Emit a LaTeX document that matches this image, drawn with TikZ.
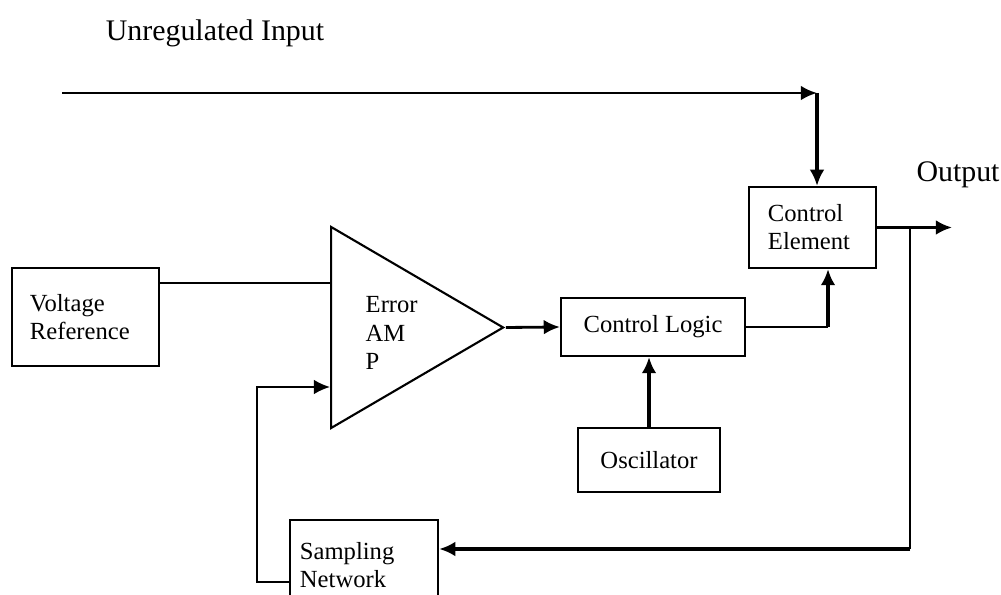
\documentclass[tikz,border=0pt]{standalone}
\usepackage{fontspec}
\setmainfont{Liberation Serif}
\usetikzlibrary{arrows.meta,calc,shapes.geometric}

\begin{document}
\begin{tikzpicture}[x=0.01cm,y=-0.01cm,
  blk/.style={draw,semithick,inner sep=0pt,font=\fontsize{7}{8}\selectfont},
  txt/.style={inner sep=0pt,font=\fontsize{7}{8}\selectfont},
  lbl/.style={font=\fontsize{8.5}{10}\selectfont},
  arr/.style={-{Latex[length=4.6pt,width=4.2pt]}}]
  \useasboundingbox (0,0) rectangle (1001,595);
  \clip (0,0) rectangle (1001,595);
  % blocks
  \node[blk,align=left,text width=1.11cm,inner xsep=0.18cm,minimum height=0.98cm] (vref) at (85.5,317) {Voltage\\Reference};
  \node[draw,semithick,isosceles triangle,isosceles triangle stretches,minimum width=2.01cm,minimum height=1.72cm,inner sep=0pt,anchor=lower side] (amp) at (330,327.5) {};
  \node[txt,align=left,anchor=west] (amptxt) at (365,333) {Error\\AM\\P};
  \node[blk,minimum width=1.84cm,minimum height=0.58cm] (logic) at (653,327) {Control Logic};
  \node[blk,minimum width=1.42cm,minimum height=0.64cm] (osc) at (649,460) {Oscillator};
  \node[blk,align=left,text width=0.89cm,inner xsep=0.19cm,minimum height=0.81cm] (elem) at (812.5,227.5) {Control\\Element};
  \node[blk,align=left,text width=1.28cm,inner xsep=0.1cm,minimum height=0.9cm] (samp) at (364,565) {Sampling\\Network};
  % labels
  \node[lbl] (inlbl) at (215,33) {Unregulated Input};
  \node[lbl] (outlbl) at (958,175) {Output};
  % turning points
  \coordinate (src) at (62,93);
  \coordinate (feed) at (817,93);
  \coordinate (refin) at (330,283);
  \coordinate (fbin) at (330,387);
  \coordinate (fbleft) at (257,582);
  \coordinate (out) at (952,227.5);
  \coordinate (tap) at (910,227.5);
  \coordinate (fbturn) at (910,549);
  \coordinate (drive) at (828,327);
  % connectors
  \draw[thick,arr] (src) -- (feed);
  \draw[very thick,arr] (feed) -- (feed |- elem.north);
  \draw[thin] (vref.east |- refin) -- (refin);
  \draw[thick,arr] (amp.apex) -- (logic.west);
  \draw[thin] (logic.east) -- (drive);
  \draw[very thick,arr] (drive) -- (drive |- elem.south);
  \draw[very thick,arr] (osc.north) -- (osc.north |- logic.south);
  \draw[thick,arr] (elem.east) -- (out);
  \draw[semithick] (tap) -- (fbturn);
  \draw[very thick,arr] (fbturn) -- (fbturn -| samp.east);
  \draw[semithick,arr] (samp.west |- fbleft) -- (fbleft) |- (fbin);
\end{tikzpicture}
\end{document}
